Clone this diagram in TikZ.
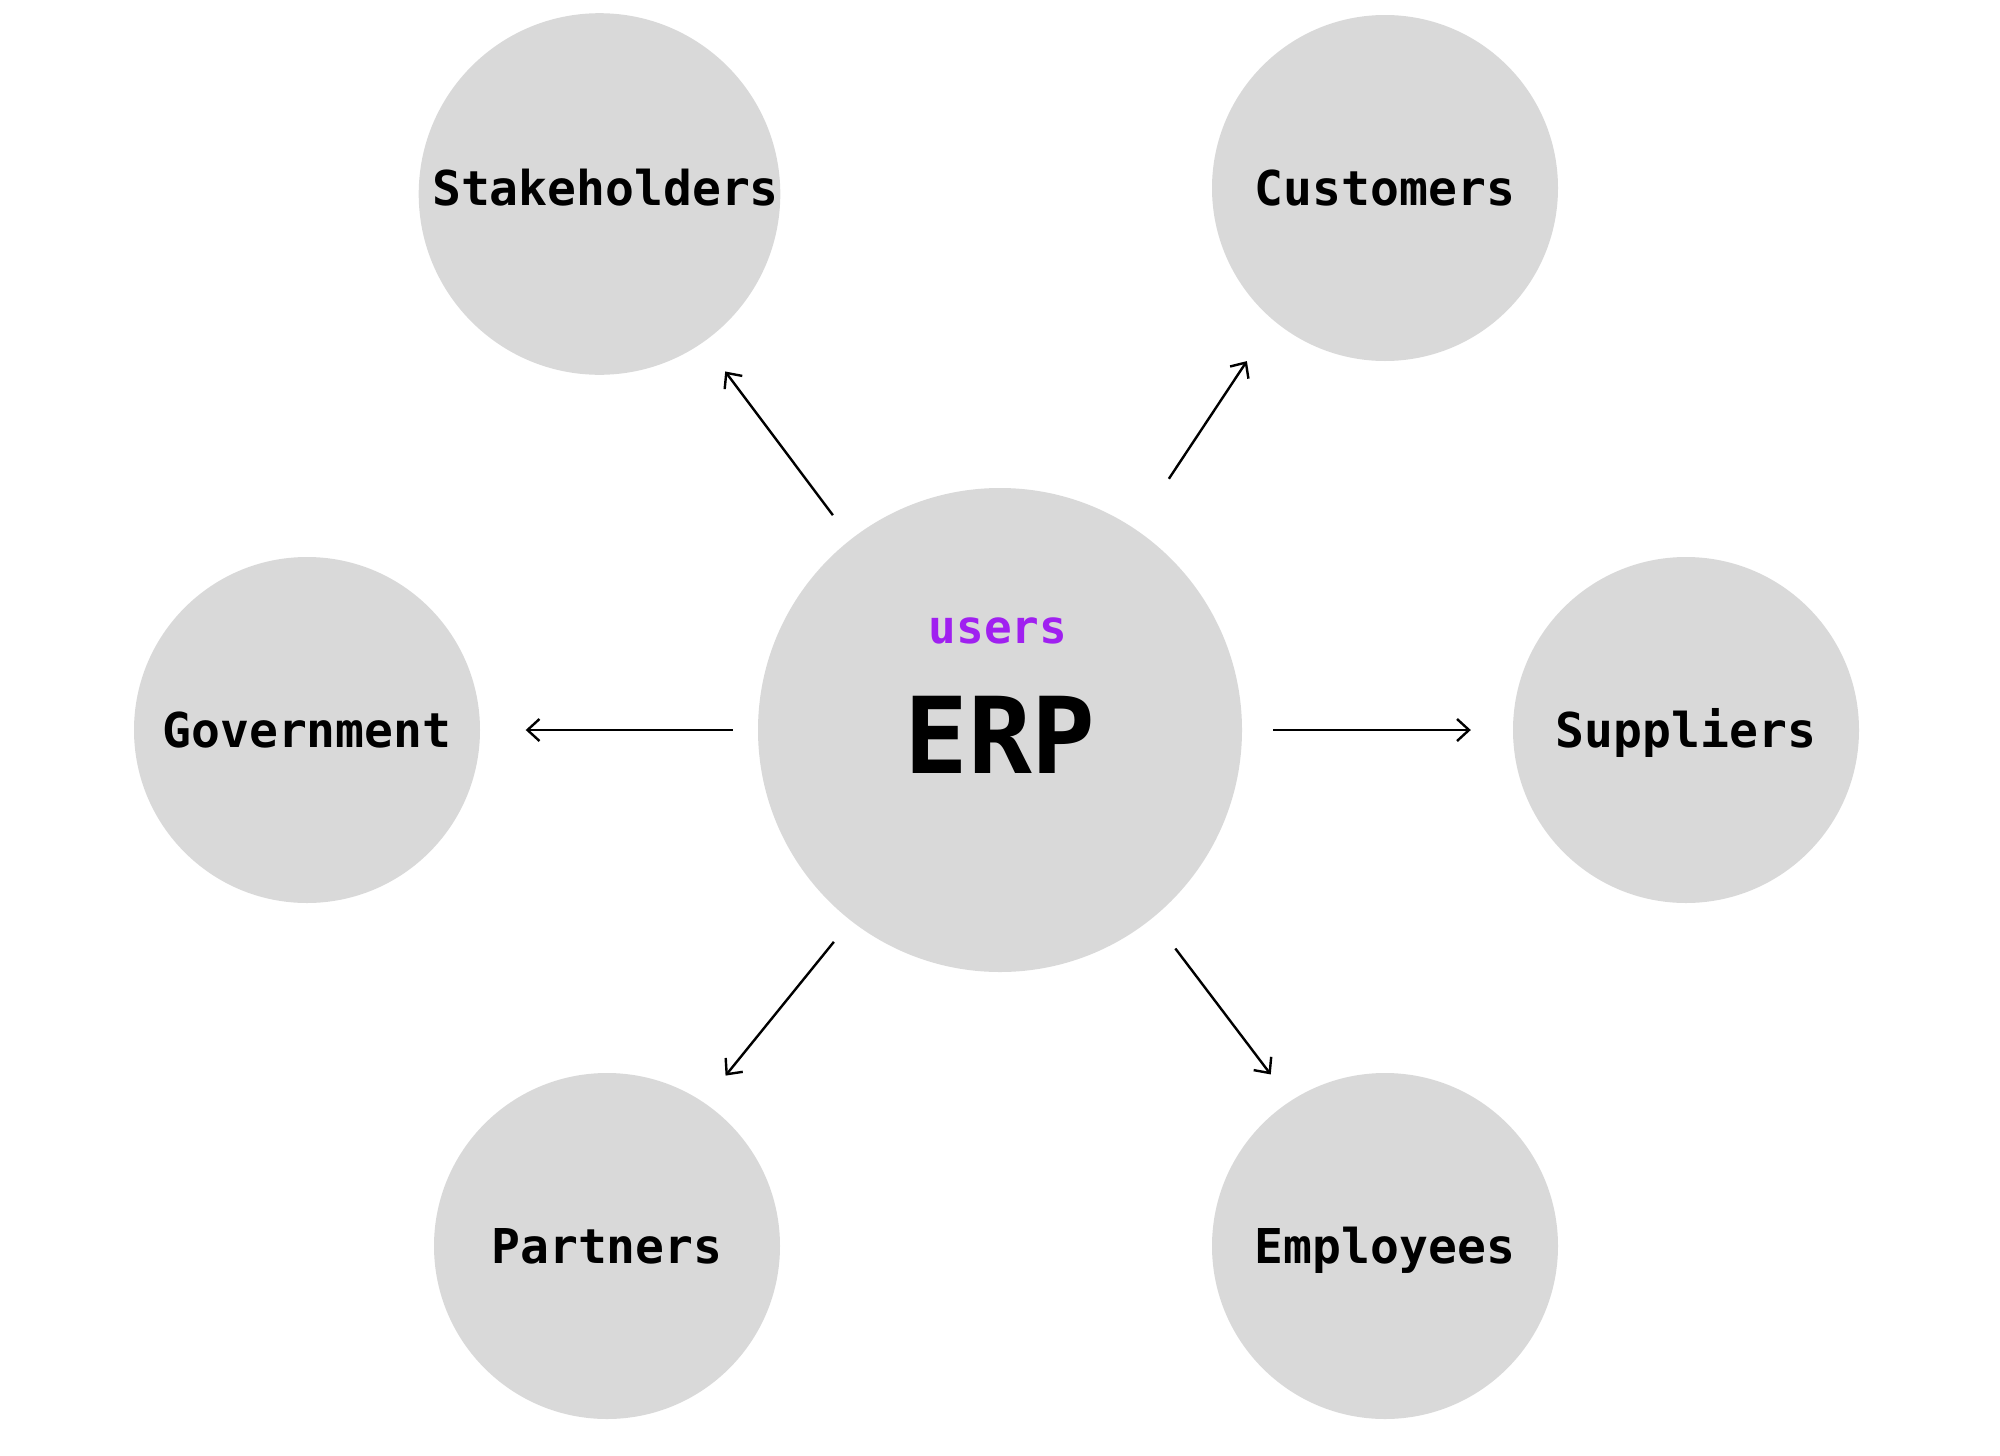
\documentclass[tikz,border=0pt]{standalone}
\usepackage{fontspec}
\setmonofont{DejaVu Sans Mono}
\usetikzlibrary{arrows.meta}
\definecolor{circfill}{HTML}{D9D9D9}
\definecolor{userpurple}{HTML}{A020F0}
\tikzset{
  party/.style={circle, fill=circfill, inner sep=0pt, minimum size=346pt,
    font=\ttfamily\bfseries\fontsize{48}{48}\selectfont, text height=35pt, text depth=0pt},
  link/.style={line width=2.4pt, -{Straight Barb[length=12pt,width=22pt,line width=2.4pt]}}
}
\begin{document}
\begin{tikzpicture}[x=1pt,y=-1pt]
\useasboundingbox (0,0) rectangle (2000,1456);
\node[circle, fill=circfill, minimum size=484pt, inner sep=0pt] (erp) at (1000,730) {};
\node[anchor=base, text=userpurple, font=\ttfamily\bfseries\fontsize{46}{46}\selectfont] (users) at (998,643) {users};
\node[anchor=base, font=\ttfamily\bfseries\fontsize{106}{106}\selectfont] (erpt) at (1000,773) {ERP};
\node[party, minimum size=360pt, text depth=13pt] (stk) at (599.5,194) {\hspace*{12pt}Stakeholders};
\node[party] (cus) at (1385,188) {Customers};
\node[party] (gov) at (307,730) {Government};
\node[party] (sup) at (1686,730) {Suppliers};
\node[party] (par) at (607,1246) {Partners};
\node[party] (emp) at (1385,1246) {Employees};
\draw[link, shorten <=30pt, shorten >=36.5pt] (erp.128.3) -- (stk.-55.5);
\draw[link, shorten <=60.5pt, shorten >=48.5pt] (erp.56.8) -- (cus.230.8);
\draw[link, shorten <=25pt, shorten >=45.5pt] (erp.180) -- (gov.0);
\draw[link, shorten <=31pt, shorten >=42pt] (erp.0) -- (sup.180);
\draw[link, shorten <=27pt, shorten >=34.5pt] (erp.232.6) -- (par.56);
\draw[link, shorten <=38pt, shorten >=33pt] (erp.-51.4) -- (emp.123.4);
\end{tikzpicture}
\end{document}
